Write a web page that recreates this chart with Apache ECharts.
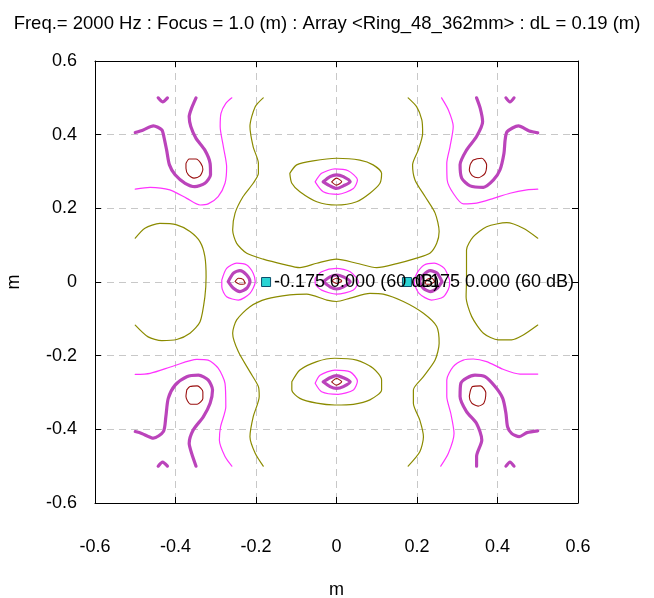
<!DOCTYPE html>
<html>
<head>
<meta charset="utf-8">
<title>Beam pattern contours</title>
<script src="https://cdn.jsdelivr.net/npm/echarts@6/dist/echarts.min.js"></script>
<style>
  html, body { margin: 0; padding: 0; background: #fff; }
  #chart { width: 654px; height: 598px; }
</style>
</head>
<body>
<div id="chart"></div>
<script>
// ---- Plot text and ticks ----
const titleText = 'Freq.= 2000 Hz : Focus = 1.0 (m) : Array <Ring_48_362mm> : dL = 0.19 (m)';
const axisMin = -0.6, axisMax = 0.6, axisStep = 0.2;
const xName = 'm', yName = 'm';

// ---- Source markers: [x, y] in metres and level in dB ----
const sourcePoints = [[-0.175, 0.0], [0.175, 0.0]];
const sourceLevels = [60, 60];

// ---- Contour lines, [x, y] in metres ----
// Level 1 (olive)
const oliveUpper = [[-0.182,0.5],[-0.202,0.476],[-0.215,0.422],[-0.207,0.367],[-0.194,0.322],[-0.194,0.295],[-0.207,0.268],[-0.232,0.232],[-0.252,0.187],[-0.258,0.141],[-0.248,0.105],[-0.223,0.078],[-0.182,0.062],[-0.132,0.048],[-0.091,0.039],[-0.049,0.051],[0.0,0.062],[0.05,0.051],[0.1,0.039],[0.15,0.05],[0.199,0.065],[0.232,0.078],[0.249,0.105],[0.255,0.137],[0.245,0.187],[0.22,0.232],[0.195,0.277],[0.189,0.318],[0.203,0.358],[0.214,0.404],[0.212,0.44],[0.199,0.476],[0.178,0.5]];
const oliveLower = [[-0.182,-0.5],[-0.202,-0.465],[-0.215,-0.42],[-0.207,-0.366],[-0.192,-0.311],[-0.194,-0.284],[-0.215,-0.244],[-0.244,-0.189],[-0.258,-0.139],[-0.248,-0.103],[-0.215,-0.067],[-0.173,-0.046],[-0.116,-0.035],[-0.074,-0.033],[-0.024,-0.049],[0.0,-0.053],[0.034,-0.044],[0.083,-0.031],[0.116,-0.033],[0.166,-0.053],[0.216,-0.085],[0.249,-0.121],[0.255,-0.166],[0.245,-0.212],[0.216,-0.257],[0.191,-0.293],[0.191,-0.329],[0.207,-0.375],[0.216,-0.42],[0.207,-0.461],[0.178,-0.5]];
const oliveLeft = [[-0.5,0.119],[-0.476,0.146],[-0.439,0.159],[-0.397,0.155],[-0.364,0.137],[-0.339,0.109],[-0.327,0.069],[-0.324,0.014],[-0.327,-0.04],[-0.339,-0.108],[-0.364,-0.139],[-0.397,-0.156],[-0.434,-0.159],[-0.468,-0.149],[-0.5,-0.117]];
const oliveRight = [[0.5,0.119],[0.464,0.146],[0.423,0.161],[0.373,0.15],[0.34,0.123],[0.323,0.087],[0.323,0.046],[0.323,0.005],[0.322,-0.04],[0.336,-0.094],[0.365,-0.139],[0.402,-0.157],[0.435,-0.157],[0.464,-0.144],[0.5,-0.117]];
const oliveTopLobe = [[-0.116,0.295],[-0.099,0.318],[-0.058,0.329],[0.0,0.336],[0.058,0.331],[0.091,0.318],[0.112,0.295],[0.108,0.268],[0.083,0.241],[0.05,0.218],[0.0,0.209],[-0.049,0.218],[-0.091,0.245],[-0.111,0.268]];
const oliveBottomLobe = [[-0.111,-0.271],[-0.091,-0.239],[-0.049,-0.216],[-0.004,-0.207],[0.05,-0.212],[0.091,-0.234],[0.112,-0.266],[0.112,-0.293],[0.083,-0.32],[0.042,-0.332],[-0.004,-0.334],[-0.049,-0.329],[-0.091,-0.316],[-0.111,-0.293]];

// Level 2 (thin magenta)
const thinTopLeft = [[-0.5,0.252],[-0.463,0.257],[-0.414,0.25],[-0.372,0.227],[-0.339,0.209],[-0.319,0.212],[-0.294,0.232],[-0.277,0.268],[-0.273,0.313],[-0.281,0.367],[-0.289,0.422],[-0.287,0.458],[-0.275,0.485],[-0.26,0.5]];
const thinTopRight = [[0.261,0.5],[0.278,0.467],[0.29,0.422],[0.282,0.367],[0.274,0.322],[0.275,0.277],[0.29,0.241],[0.315,0.212],[0.348,0.214],[0.39,0.227],[0.431,0.241],[0.473,0.25],[0.5,0.252]];
const thinBottomLeft = [[-0.5,-0.251],[-0.463,-0.248],[-0.405,-0.228],[-0.347,-0.21],[-0.319,-0.212],[-0.294,-0.234],[-0.277,-0.275],[-0.275,-0.339],[-0.288,-0.393],[-0.291,-0.429],[-0.277,-0.474],[-0.26,-0.5]];
const thinBottomRight = [[0.259,-0.5],[0.278,-0.465],[0.292,-0.411],[0.284,-0.357],[0.274,-0.311],[0.274,-0.266],[0.29,-0.23],[0.315,-0.212],[0.34,-0.209],[0.373,-0.216],[0.414,-0.237],[0.456,-0.25],[0.5,-0.25]];
const thinTopLobe = [[-0.053,0.272],[-0.037,0.295],[-0.004,0.307],[0.029,0.302],[0.052,0.277],[0.042,0.254],[0.004,0.238],[-0.033,0.245]];
const thinBottomLobe = [[-0.053,-0.275],[-0.041,-0.253],[-0.004,-0.239],[0.034,-0.244],[0.052,-0.269],[0.042,-0.293],[0.004,-0.305],[-0.037,-0.298]];
const thinCentre = [[-0.053,0.01],[-0.037,0.028],[0.0,0.037],[0.034,0.028],[0.054,0.001],[0.042,-0.022],[0.0,-0.033],[-0.037,-0.022],[-0.053,-0.004]];
const thinLeftLobe = [[-0.285,0.005],[-0.273,0.037],[-0.248,0.051],[-0.223,0.046],[-0.207,0.024],[-0.202,0.001],[-0.215,-0.031],[-0.244,-0.049],[-0.273,-0.04],[-0.285,-0.013]];
const thinRightLobe = [[0.281,0.005],[0.268,0.037],[0.243,0.051],[0.218,0.046],[0.2,0.024],[0.193,0.001],[0.205,-0.031],[0.236,-0.049],[0.266,-0.04],[0.28,-0.013]];

// Level 3 (thick purple)
const thickTopLeft = [[-0.5,0.406],[-0.48,0.413],[-0.455,0.424],[-0.434,0.413],[-0.429,0.395],[-0.422,0.358],[-0.415,0.318],[-0.401,0.291],[-0.376,0.268],[-0.352,0.259],[-0.327,0.268],[-0.313,0.291],[-0.314,0.322],[-0.327,0.358],[-0.349,0.39],[-0.362,0.422],[-0.366,0.449],[-0.36,0.472],[-0.349,0.5]];
const thickTopRight = [[0.348,0.5],[0.357,0.472],[0.363,0.435],[0.348,0.395],[0.323,0.358],[0.307,0.318],[0.311,0.282],[0.332,0.261],[0.365,0.257],[0.39,0.277],[0.406,0.304],[0.416,0.349],[0.419,0.386],[0.424,0.408],[0.452,0.424],[0.479,0.41],[0.5,0.405]];
const thickBottomLeft = [[-0.5,-0.406],[-0.484,-0.411],[-0.455,-0.424],[-0.43,-0.406],[-0.424,-0.366],[-0.418,-0.316],[-0.401,-0.28],[-0.372,-0.257],[-0.343,-0.253],[-0.319,-0.266],[-0.308,-0.293],[-0.314,-0.329],[-0.331,-0.366],[-0.356,-0.402],[-0.366,-0.438],[-0.36,-0.465],[-0.349,-0.5]];
const thickBottomRight = [[0.348,-0.5],[0.348,-0.474],[0.361,-0.429],[0.348,-0.384],[0.323,-0.352],[0.307,-0.311],[0.309,-0.275],[0.323,-0.261],[0.344,-0.253],[0.369,-0.257],[0.394,-0.284],[0.413,-0.316],[0.421,-0.357],[0.425,-0.393],[0.435,-0.411],[0.454,-0.42],[0.473,-0.409],[0.5,-0.404]];
const thickTickTL = [[-0.443,0.5],[-0.432,0.489],[-0.42,0.5]];
const thickTickTR = [[0.421,0.5],[0.431,0.489],[0.441,0.5]];
const thickTickBL = [[-0.443,-0.5],[-0.432,-0.489],[-0.42,-0.5]];
const thickTickBR = [[0.421,-0.5],[0.431,-0.489],[0.441,-0.5]];
const thickTopLobe = [[-0.033,0.272],[-0.016,0.286],[0.0,0.291],[0.017,0.286],[0.034,0.272],[0.017,0.261],[0.0,0.254],[-0.016,0.261]];
const thickBottomLobe = [[-0.033,-0.271],[-0.016,-0.26],[0.0,-0.254],[0.017,-0.26],[0.034,-0.271],[0.017,-0.284],[0.0,-0.289],[-0.016,-0.284]];
const thickCentre = [[-0.033,0.001],[-0.016,0.014],[0.0,0.019],[0.017,0.014],[0.034,0.001],[0.017,-0.013],[0.0,-0.019],[-0.016,-0.013]];
const thickLeftLobe = [[-0.269,0.001],[-0.256,0.024],[-0.24,0.031],[-0.223,0.019],[-0.215,0.001],[-0.223,-0.017],[-0.24,-0.026],[-0.256,-0.017]];
const thickRightLobe = [[0.262,0.001],[0.25,0.024],[0.233,0.031],[0.216,0.019],[0.207,0.001],[0.216,-0.017],[0.233,-0.026],[0.25,-0.017]];

// Level 4 (dark red)
const redTopLeft = [[-0.374,0.322],[-0.366,0.334],[-0.349,0.334],[-0.337,0.322],[-0.332,0.306],[-0.339,0.288],[-0.354,0.282],[-0.368,0.291],[-0.374,0.309]];
const redTopRight = [[0.332,0.318],[0.34,0.331],[0.361,0.336],[0.373,0.318],[0.369,0.295],[0.352,0.283],[0.338,0.288],[0.33,0.304]];
const redBottomLeft = [[-0.372,-0.293],[-0.364,-0.284],[-0.346,-0.282],[-0.332,-0.298],[-0.332,-0.316],[-0.346,-0.332],[-0.364,-0.331],[-0.374,-0.311]];
const redBottomRight = [[0.332,-0.298],[0.338,-0.284],[0.358,-0.282],[0.371,-0.301],[0.366,-0.329],[0.352,-0.337],[0.336,-0.329],[0.33,-0.311]];
const redTopLobe = [[-0.012,0.272],[0.0,0.282],[0.013,0.272],[0.0,0.263]];
const redBottomLobe = [[-0.012,-0.271],[0.0,-0.262],[0.013,-0.271],[0.0,-0.28]];
const redCentre = [[-0.012,0.003],[0.0,0.01],[0.013,0.003],[0.0,-0.004]];
const redLeftLobe = [[-0.252,0.001],[-0.244,0.01],[-0.232,0.007],[-0.227,-0.004],[-0.24,-0.006]];
const redRightLobe = [[0.244,0.001],[0.237,0.01],[0.225,0.007],[0.22,-0.004],[0.232,-0.006]];

// ---- Line styles per contour level ----
const levelStyles = {
  olive: { color: '#8b8b00', width: 1.2 },
  thin:  { color: '#ff33ff', width: 1.2 },
  thick: { color: '#bb44bb', width: 3.2 },
  red:   { color: '#9a1010', width: 1.1 }
};

// Each entry: [level, points, closed]
const contours = [
  ['olive', oliveUpper, false], ['olive', oliveLower, false],
  ['olive', oliveLeft, false], ['olive', oliveRight, false],
  ['olive', oliveTopLobe, true], ['olive', oliveBottomLobe, true],
  ['thin', thinTopLeft, false], ['thin', thinTopRight, false],
  ['thin', thinBottomLeft, false], ['thin', thinBottomRight, false],
  ['thin', thinTopLobe, true], ['thin', thinBottomLobe, true],
  ['thin', thinCentre, true], ['thin', thinLeftLobe, true], ['thin', thinRightLobe, true],
  ['thick', thickTopLeft, false], ['thick', thickTopRight, false],
  ['thick', thickBottomLeft, false], ['thick', thickBottomRight, false],
  ['thick', thickTickTL, false], ['thick', thickTickTR, false],
  ['thick', thickTickBL, false], ['thick', thickTickBR, false],
  ['thick', thickTopLobe, true], ['thick', thickBottomLobe, true],
  ['thick', thickCentre, true], ['thick', thickLeftLobe, true], ['thick', thickRightLobe, true],
  ['red', redTopLeft, true], ['red', redTopRight, true],
  ['red', redBottomLeft, true], ['red', redBottomRight, true],
  ['red', redTopLobe, true], ['red', redBottomLobe, true],
  ['red', redCentre, true], ['red', redLeftLobe, true], ['red', redRightLobe, true]
];

const contourSeries = contours.map(([level, pts, closed], i) => {
  const st = levelStyles[level];
  const data = closed ? pts.concat([pts[0]]) : pts.slice();
  return {
    type: 'line',
    name: level + i,
    data: data,
    showSymbol: false,
    symbol: 'none',
    smooth: 0.25,
    silent: true,
    lineStyle: { color: st.color, width: st.width, join: 'round', cap: 'round' },
    z: 2
  };
});

const fmt = v => {
  const r = Math.round(v * 10) / 10;
  return r === 0 ? '0' : String(r);
};

const sourceSeries = {
  type: 'scatter',
  data: sourcePoints.map((p, i) => ({ value: p, level: sourceLevels[i] })),
  symbol: 'rect',
  symbolSize: 9,
  itemStyle: { color: '#2ad4d4', borderColor: '#0d4f6b', borderWidth: 1, opacity: 1 },
  label: {
    show: true,
    position: 'right',
    distance: 3,
    color: '#000',
    fontFamily: 'Liberation Sans, Arial, sans-serif',
    fontSize: 18,
    formatter: p => p.value[0].toFixed(3) + ' ' + p.value[1].toFixed(3) + ' (' + p.data.level + ' dB)'
  },
  z: 5
};

const axisCommon = {
  type: 'value', min: axisMin, max: axisMax, interval: axisStep,
  axisLine: { show: true, onZero: false, lineStyle: { color: '#000', width: 1 } },
  axisTick: { show: true, inside: true, length: 6, lineStyle: { color: '#000' } }
};

const labelFont = { color: '#000', fontSize: 18, fontFamily: 'Liberation Sans, Arial, sans-serif' };
const gridLine = { show: true, lineStyle: { color: '#c8c8c8', type: [7, 5], width: 1 } };

const chart = echarts.init(document.getElementById('chart'), null, { renderer: 'canvas' });
chart.setOption({
  animation: false,
  backgroundColor: '#fff',
  title: {
    text: titleText, left: 'center', top: 9,
    textStyle: { color: '#000', fontSize: 18.5, fontWeight: 'normal', fontFamily: 'Liberation Sans, Arial, sans-serif' }
  },
  grid: { left: 95, right: 76, top: 61, bottom: 95, containLabel: false, outerBoundsMode: 'none' },
  xAxis: [
    Object.assign({}, axisCommon, {
      position: 'bottom',
      name: xName, nameLocation: 'middle', nameGap: 78,
      nameTextStyle: labelFont,
      axisLabel: Object.assign({ margin: 35, formatter: fmt, showMinLabel: true, showMaxLabel: true }, labelFont),
      splitLine: gridLine
    }),
    Object.assign({}, axisCommon, {
      position: 'top', axisLabel: { show: false }, splitLine: { show: false }
    })
  ],
  yAxis: [
    Object.assign({}, axisCommon, {
      position: 'left',
      name: yName, nameLocation: 'middle', nameGap: 72, nameRotate: 90,
      nameTextStyle: labelFont,
      axisLabel: Object.assign({ margin: 18, formatter: fmt, showMinLabel: true, showMaxLabel: true }, labelFont),
      splitLine: gridLine
    }),
    Object.assign({}, axisCommon, {
      position: 'right', axisLabel: { show: false }, splitLine: { show: false }
    })
  ],
  series: contourSeries.concat([sourceSeries])
});
</script>
</body>
</html>
